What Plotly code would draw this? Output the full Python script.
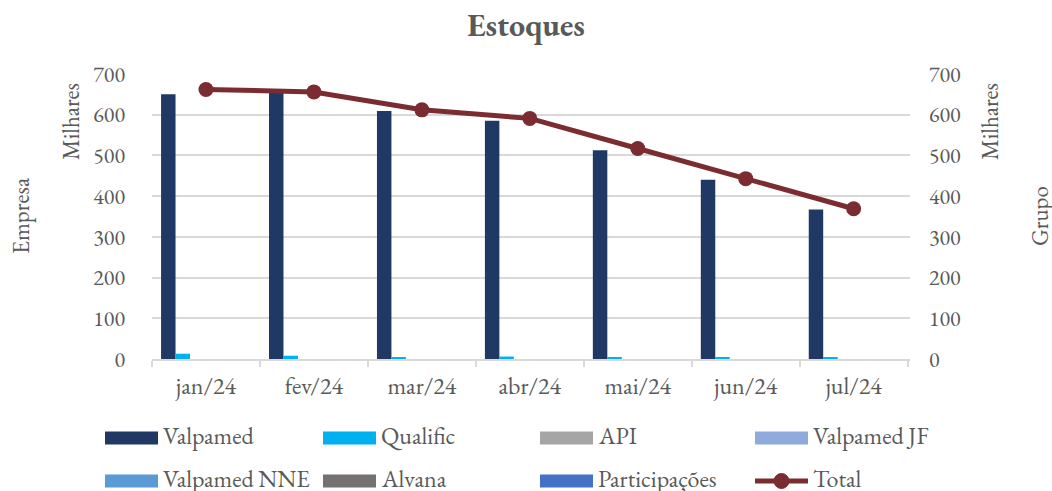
import plotly.graph_objects as go

# dados (milhares)
meses = ["jan/24", "fev/24", "mar/24", "abr/24", "mai/24", "jun/24", "jul/24"]
valpamed = [650, 655, 609, 585, 513, 440, 367]
qualific = [13, 8, 4, 6, 5, 5, 4]
api = [0, 0, 0, 0, 0, 0, 0]
valpamed_jf = [0, 0, 0, 0, 0, 0, 0]
valpamed_nne = [0, 0, 0, 0, 0, 0, 0]
alvana = [0, 0, 0, 0, 0, 0, 0]
participacoes = [0, 0, 0, 0, 0, 0, 0]
total = [662, 656, 612, 591, 517, 443, 369]

nomes = ["Valpamed", "Qualific", "API", "Valpamed JF",
         "Valpamed NNE", "Alvana", "Participações"]
series = [valpamed, qualific, api, valpamed_jf, valpamed_nne, alvana, participacoes]
cores = ["#1f3864", "#00b0f0", "#a5a5a5", "#8faadc", "#5b9bd5", "#767171", "#4472c4"]
cor_total = "#7b2c31"

FONTE = "EB Garamond, Garamond, Liberation Serif, serif"
CINZA = "#595959"
GRADE = "#d9d9d9"

W, H = 1052, 491
L, R, T, B = 152, 910, 74, 359  # area do grafico em px


def px_x(px):
    return (px - L) / (R - L)


def px_y(py):
    return (B - py) / (B - T)


# largura de cada barra e deslocamento do grupo (em fracao da categoria)
LARG = 0.134
DESLOC0 = -0.416

fig = go.Figure()
for i, (nome, vals, cor) in enumerate(zip(nomes, series, cores)):
    fig.add_trace(go.Bar(x=meses, y=vals, name=nome, marker_color=cor,
                         marker_line_width=0, width=LARG,
                         offset=DESLOC0 + i * LARG))

fig.add_trace(go.Scatter(x=meses, y=total, name="Total", yaxis="y2",
                         mode="lines+markers",
                         line=dict(color=cor_total, width=5),
                         marker=dict(color=cor_total, size=15)))

# legenda desenhada a mao (simbolos largos como no Excel)
shapes = []
annotations = []
col_x = [105, 323, 540, 755]
row_y = [438, 481]
itens = list(zip(nomes, cores)) + [("Total", cor_total)]
for i, (nome, cor) in enumerate(itens):
    cx = col_x[i % 4]
    cy = row_y[i // 4]
    if nome == "Total":
        shapes.append(dict(type="line", xref="paper", yref="paper",
                           x0=px_x(cx), x1=px_x(cx + 53), y0=px_y(cy), y1=px_y(cy),
                           line=dict(color=cor, width=5)))
        shapes.append(dict(type="circle", xref="paper", yref="paper",
                           x0=px_x(cx + 19), x1=px_x(cx + 34),
                           y0=px_y(cy + 7.5), y1=px_y(cy - 7.5),
                           fillcolor=cor, line=dict(color=cor, width=1)))
    else:
        shapes.append(dict(type="rect", xref="paper", yref="paper",
                           x0=px_x(cx), x1=px_x(cx + 53),
                           y0=px_y(cy + 6.5), y1=px_y(cy - 6.5),
                           fillcolor=cor, line=dict(width=0)))
    annotations.append(dict(text=nome, xref="paper", yref="paper",
                            x=px_x(cx + 56), y=px_y(cy - 3), xanchor="left",
                            yanchor="middle", showarrow=False,
                            font=dict(family=FONTE, size=24, color=CINZA)))

# titulos dos eixos
for txt, xp, yp in [("Milhares", 71, 122), ("Empresa", 21, 216),
                    ("Milhares", 990, 122), ("Grupo", 1040, 216)]:
    annotations.append(dict(text=txt, xref="paper", yref="paper",
                            x=px_x(xp), y=px_y(yp), xanchor="center",
                            yanchor="middle", textangle=-90, showarrow=False,
                            font=dict(family=FONTE, size=23, color=CINZA)))

fig.update_layout(
    width=W, height=H,
    margin=dict(l=L, r=W - R, t=T, b=H - B),
    paper_bgcolor="white", plot_bgcolor="white",
    barmode="group",
    showlegend=False,
    title=dict(text="<b>Estoques</b>", x=0.5, xanchor="center",
               y=1 - 25 / H, yanchor="middle",
               font=dict(family=FONTE, size=32, color=CINZA)),
    font=dict(family=FONTE, size=22, color=CINZA),
    xaxis=dict(showline=True, linecolor=GRADE, linewidth=1.5,
               ticks="outside", tickson="boundaries", ticklen=6,
               tickcolor=GRADE, tickwidth=1.5, showgrid=False,
               ticklabelstandoff=4,
               tickfont=dict(family=FONTE, size=24, color=CINZA)),
    yaxis=dict(range=[0, 700], dtick=100, showgrid=True, gridcolor=GRADE,
               gridwidth=1.5, zeroline=False, showline=False,
               ticklabelstandoff=26,
               tickfont=dict(family=FONTE, size=22, color=CINZA)),
    yaxis2=dict(range=[0, 700], dtick=100, overlaying="y", side="right",
                showgrid=False, zeroline=False, showline=False,
                ticklabelstandoff=18,
                tickfont=dict(family=FONTE, size=22, color=CINZA)),
    shapes=shapes,
    annotations=annotations,
)

fig.write_html("out.html", config={"displayModeBar": False},
               post_script="document.body.style.margin='0px';")
